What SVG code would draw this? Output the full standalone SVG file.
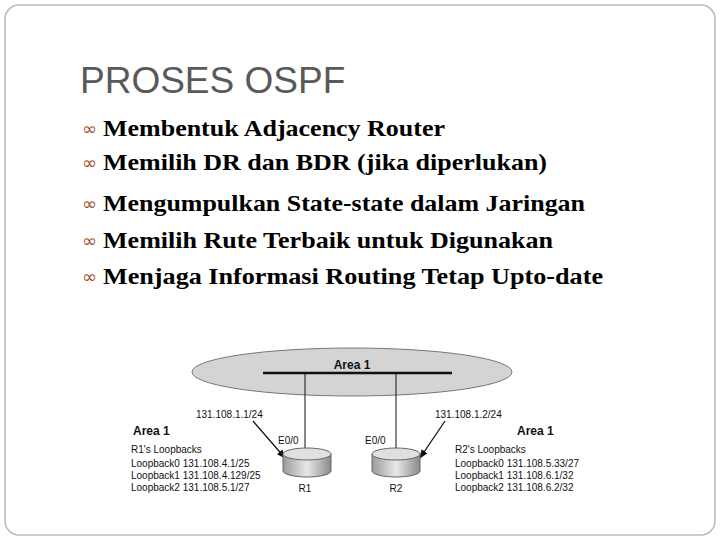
<svg xmlns="http://www.w3.org/2000/svg" width="720" height="540" viewBox="0 0 720 540">
<defs>
<linearGradient id="rg" x1="0" x2="1"><stop offset="0" stop-color="#9a9a9a"/><stop offset="0.5" stop-color="#e8e8e8"/><stop offset="1" stop-color="#8a8a8a"/></linearGradient>
<marker id="ah" viewBox="0 0 10 10" refX="9" refY="5" markerWidth="7" markerHeight="7" orient="auto"><path d="M0,1 L10,5 L0,9 Z" fill="#111"/></marker>
</defs>
<style>
.b{font-family:"Liberation Serif",serif;font-weight:bold;font-size:23px;fill:#000}
.bu{font-family:"DejaVu Sans",sans-serif;font-size:18px;fill:#a0522d}
.s{font-family:"Liberation Sans",Arial,sans-serif;font-size:10px;fill:#111}
.sb{font-family:"Liberation Sans",Arial,sans-serif;font-size:12px;font-weight:bold;fill:#111}
</style>
<rect width="720" height="540" fill="#fff"/>
<rect x="5" y="5" width="710" height="530" rx="14" fill="#fff" stroke="#bbb" stroke-width="1.5"/>
<text x="80" y="93" font-family="Liberation Sans,Arial,sans-serif" font-size="37" fill="#595959">PROSES OSPF</text>
<g id="bullets">
<text x="82" y="135" class="bu">∞</text><text x="103" y="136" class="b" textLength="342" lengthAdjust="spacingAndGlyphs">Membentuk Adjacency Router</text>
<text x="82" y="169" class="bu">∞</text><text x="103" y="170" class="b" textLength="444" lengthAdjust="spacingAndGlyphs">Memilih DR dan BDR (jika diperlukan)</text>
<text x="82" y="210" class="bu">∞</text><text x="103" y="211" class="b" textLength="482" lengthAdjust="spacingAndGlyphs">Mengumpulkan State-state dalam Jaringan</text>
<text x="82" y="247" class="bu">∞</text><text x="103" y="248" class="b" textLength="450" lengthAdjust="spacingAndGlyphs">Memilih Rute Terbaik untuk Digunakan</text>
<text x="82" y="283" class="bu">∞</text><text x="103" y="284" class="b" textLength="500" lengthAdjust="spacingAndGlyphs">Menjaga Informasi Routing Tetap Upto-date</text>
</g>
<g id="area">
<ellipse cx="352" cy="372" rx="160" ry="24" fill="#d4d4d4" stroke="#777"/>
<line x1="263" y1="373" x2="452" y2="373" stroke="#111" stroke-width="2.5"/>
<text x="352" y="369" class="sb" text-anchor="middle">Area 1</text>
</g>
<g id="connectors" stroke="#111">
<line x1="305" y1="373" x2="305" y2="455" stroke-width="1"/>
<line x1="396" y1="373" x2="396" y2="455" stroke-width="1"/>
<line x1="253" y1="421" x2="285" y2="458" stroke-width="1.3" marker-end="url(#ah)"/>
<line x1="445" y1="421" x2="420" y2="458" stroke-width="1.3" marker-end="url(#ah)"/>
</g>
<g id="R1">
<path d="M283,454 v17 a24,6 0 0 0 48,0 v-17 Z" fill="url(#rg)" stroke="#666"/>
<ellipse cx="307" cy="454" rx="24" ry="6" fill="#e0e0e0" stroke="#666"/>
<text x="305" y="492" class="s" text-anchor="middle">R1</text>
<text x="278" y="444" class="s">E0/0</text>
</g>
<g id="R2">
<path d="M372,454 v17 a24,6 0 0 0 48,0 v-17 Z" fill="url(#rg)" stroke="#666"/>
<ellipse cx="396" cy="454" rx="24" ry="6" fill="#e0e0e0" stroke="#666"/>
<text x="396" y="492" class="s" text-anchor="middle">R2</text>
<text x="365" y="444" class="s">E0/0</text>
</g>
<g id="labels">
<text x="196" y="418" class="s">131.108.1.1/24</text>
<text x="435" y="418" class="s">131.108.1.2/24</text>
<text x="133" y="435" class="sb">Area 1</text>
<text x="517" y="435" class="sb">Area 1</text>
<text x="131" y="453" class="s">R1's Loopbacks</text>
<text x="131" y="467" class="s">Loopback0 131.108.4.1/25</text>
<text x="131" y="479" class="s">Loopback1 131.108.4.129/25</text>
<text x="131" y="491" class="s">Loopback2 131.108.5.1/27</text>
<text x="455" y="453" class="s">R2's Loopbacks</text>
<text x="455" y="467" class="s">Loopback0 131.108.5.33/27</text>
<text x="455" y="479" class="s">Loopback1 131.108.6.1/32</text>
<text x="455" y="491" class="s">Loopback2 131.108.6.2/32</text>
</g>
</svg>
